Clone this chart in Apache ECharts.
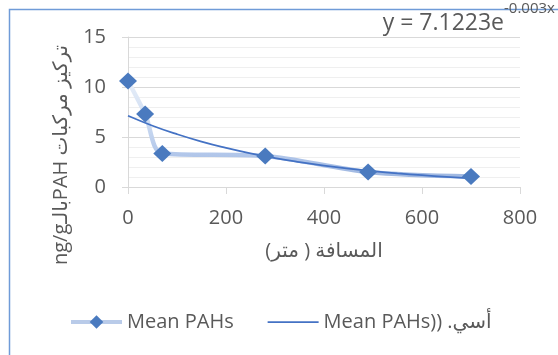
<!DOCTYPE html>
<html>
<head>
<meta charset="utf-8">
<script src="https://cdn.jsdelivr.net/npm/echarts@6/dist/echarts.min.js"></script>
<style>
  html, body { margin: 0; padding: 0; background: #ffffff; }
  #chart { width: 558px; height: 355px; }
</style>
</head>
<body>
<div id="chart"></div>
<script>
// ---- data ----
const distances = [0, 35, 70, 280, 490, 700];
const meanPAHs = [10.6, 7.3, 3.35, 3.1, 1.5, 1.05];
const trendX = [0, 50, 100, 150, 200, 250, 300, 350, 400, 450, 500, 550, 600, 650, 700];
const trendY = [7.12, 6.13, 5.28, 4.54, 3.91, 3.36, 2.89, 2.49, 2.14, 1.84, 1.59, 1.37, 1.18, 1.01, 0.87];
const xTickLabels = ['0', '200', '400', '600', '800'];
const yTickLabels = ['0', '5', '10', '15'];

const seriesName = 'Mean PAHs';
const trendName = 'Mean PAHs)) أسي.\u200F';
const xTitle = '\u200Fالمسافة ( متر)\u200F';
const yTitle = 'ng/gبالـPAH تركيز مركبات';
const eqMain = 'y = 7.1223e';
const eqSup = '-0.003x';

const FONT = "'Open Sans', 'DejaVu Sans', sans-serif";
const TXT = '#595959';

const dataPts = distances.map((d, i) => [d, meanPAHs[i]]);
const trendPts = trendX.map((d, i) => [d, trendY[i]]);

const chart = echarts.init(document.getElementById('chart'), null, { renderer: 'canvas' });
chart.setOption({
  animation: false,
  backgroundColor: '#ffffff',
  textStyle: { fontFamily: FONT },
  grid: { left: 128, right: 38, top: 37, bottom: 168, containLabel: false, outerBoundsMode: 'none' },
  xAxis: {
    type: 'value', min: 0, max: 800, interval: 200,
    name: xTitle, nameLocation: 'middle', nameGap: 54,
    nameTextStyle: { fontSize: 20, color: TXT, fontFamily: FONT },
    axisLine: { show: true, lineStyle: { color: '#d9d9d9', width: 1 } },
    axisTick: { show: true, length: 7, lineStyle: { color: '#d9d9d9' } },
    splitLine: { show: false },
    axisLabel: {
      margin: 21, fontSize: 20, color: TXT, fontFamily: FONT,
      formatter: v => xTickLabels[Math.round(v / 200)] ?? String(v)
    }
  },
  yAxis: {
    type: 'value', min: 0, max: 15, interval: 5,
    axisLine: { show: true, lineStyle: { color: '#d9d9d9', width: 1 } },
    axisTick: { show: true, length: 6, lineStyle: { color: '#d9d9d9' } },
    splitLine: { show: true, lineStyle: { color: '#d9d9d9', width: 1 } },
    minorTick: { show: false, splitNumber: 5 },
    minorSplitLine: { show: true, lineStyle: { color: '#efefef', width: 1 } },
    axisLabel: {
      margin: 22, fontSize: 20, color: TXT, fontFamily: FONT,
      formatter: v => yTickLabels[Math.round(v / 5)] ?? String(v)
    }
  },
  legend: {
    left: 69, top: 312, orient: 'horizontal', padding: 0,
    itemWidth: 51, itemHeight: 17, itemGap: 33,
    textStyle: { fontSize: 20, color: TXT, fontFamily: FONT },
    data: [
      { name: seriesName, lineStyle: { color: '#b9cbe9', width: 4, opacity: 1 }, itemStyle: { color: '#4a7abf' } },
      { name: trendName, lineStyle: { color: '#4472c4', width: 1.75, opacity: 1 }, itemStyle: { opacity: 0 } }
    ]
  },
  series: [
    {
      name: 'Mean PAHs line', type: 'line', data: dataPts, smooth: 0.3,
      symbol: 'none', z: 2, silent: true,
      lineStyle: {
        width: 4.5,
        color: {
          type: 'linear', x: 0, y: 0, x2: 0, y2: 1,
          colorStops: [
            { offset: 0, color: '#e8eff9' },
            { offset: 0.35, color: '#d3e0f3' },
            { offset: 0.75, color: '#b2c7ea' },
            { offset: 1, color: '#9db6e0' }
          ]
        }
      }
    },
    {
      name: trendName, type: 'line', data: trendPts, smooth: true,
      symbol: 'none', z: 3,
      itemStyle: { color: '#4472c4' },
      lineStyle: { color: '#4472c4', width: 1.75 }
    },
    {
      name: seriesName, type: 'line', data: dataPts, smooth: 0.3,
      symbol: 'diamond', symbolSize: [18, 17], z: 4,
      itemStyle: { color: '#4a7abf' },
      lineStyle: { opacity: 0, width: 4, color: '#b9cbe9' }
    }
  ],
  graphic: [
    {
      type: 'rect', silent: true, z: -1,
      shape: { x: 9.5, y: 9.5, width: 700, height: 500 },
      style: { fill: null, stroke: '#6f9bd8', lineWidth: 1.5 }
    },
    {
      type: 'text', x: 61, y: 155, rotation: Math.PI / 2,
      style: { text: yTitle, fontSize: 20, fontFamily: FONT, fill: TXT, align: 'center', verticalAlign: 'middle' }
    },
    {
      type: 'text', x: 504, y: 23,
      style: { text: eqMain, fontSize: 23, fontFamily: FONT, fill: TXT, align: 'right', verticalAlign: 'middle' }
    },
    {
      type: 'text', x: 504, y: 9,
      style: { text: eqSup, fontSize: 15, fontFamily: FONT, fill: TXT, align: 'left', verticalAlign: 'middle' }
    }
  ]
});
</script>
</body>
</html>
